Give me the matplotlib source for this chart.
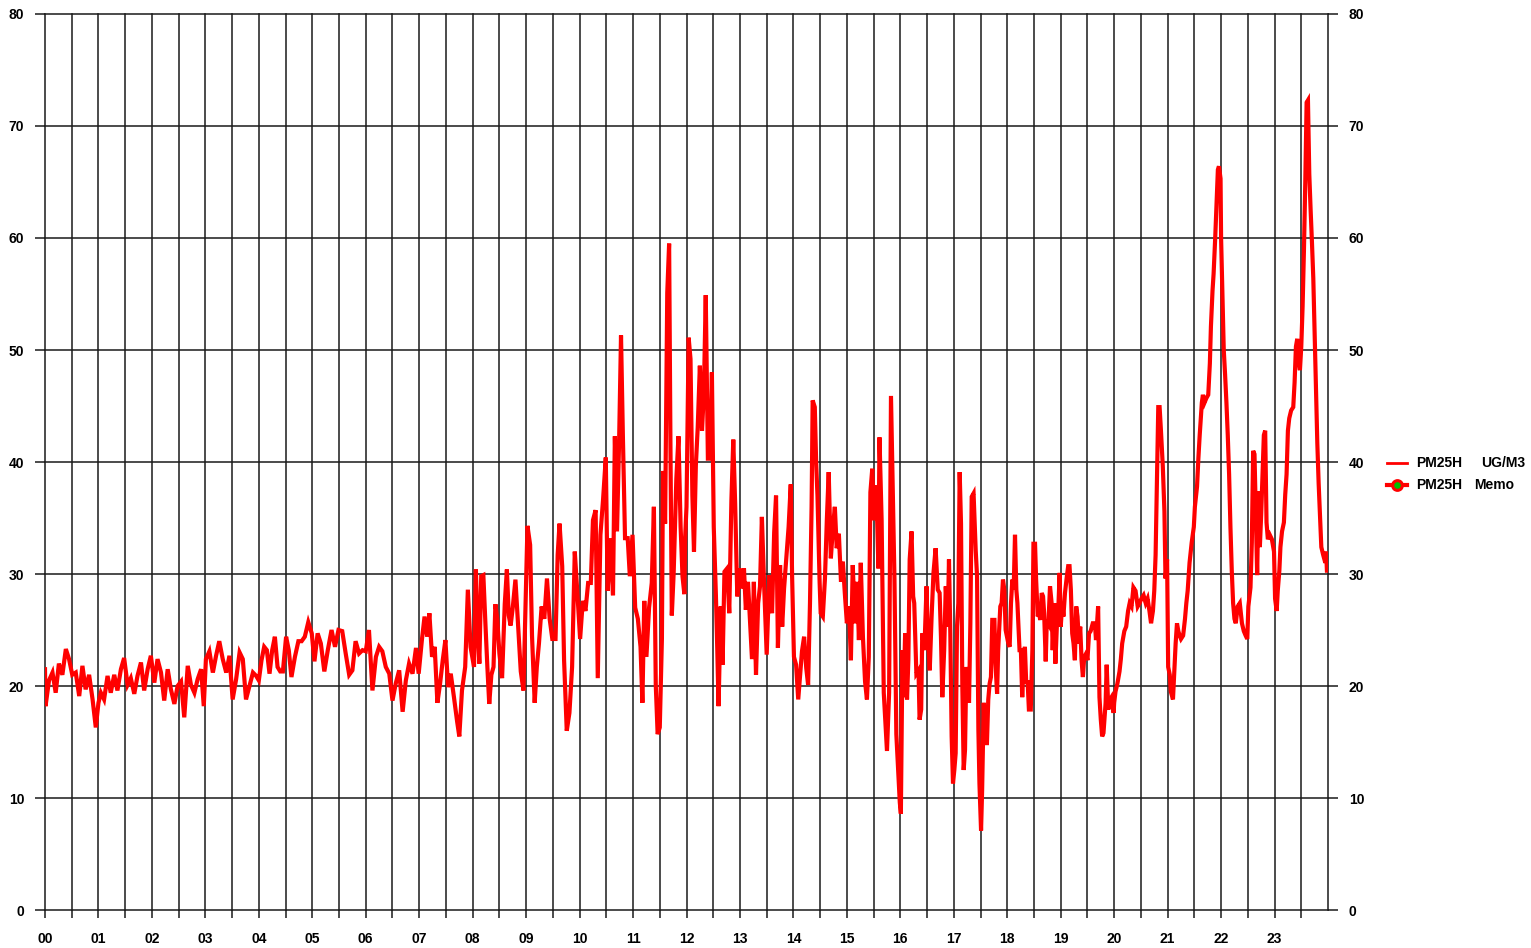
import numpy as np
import matplotlib
matplotlib.use("Agg")
import matplotlib.pyplot as plt
from matplotlib.lines import Line2D
from matplotlib.font_manager import FontProperties

# PM25H readings (x = year index 00..23)
t_00_04 = [0.0, 0.01, 0.075, 0.14, 0.20, 0.26, 0.325, 0.39, 0.45, 0.51, 0.575, 0.64, 0.70, 0.76,
           0.825, 0.89, 0.95, 1.0, 1.045, 1.105, 1.17, 1.23, 1.295, 1.355, 1.42, 1.48, 1.545,
           1.605, 1.67, 1.73, 1.795, 1.855, 1.92, 1.98, 2.045, 2.105, 2.17, 2.23, 2.295, 2.355,
           2.42, 2.48, 2.545, 2.605, 2.67, 2.73, 2.795, 2.855, 2.92, 2.97, 3.01, 3.075, 3.14,
           3.20, 3.26, 3.325, 3.39, 3.45, 3.51, 3.575, 3.64, 3.70, 3.76, 3.825, 3.89, 3.95]
v_00_04 = [21.5, 18.2, 20.5, 21.2, 19.4, 22.0, 21.0, 23.3, 22.4, 21.0, 21.2, 19.1, 21.8, 19.7,
           21.0, 18.8, 16.3, 18.5, 19.4, 18.8, 20.9, 19.4, 21.0, 19.6, 21.5, 22.5, 20.1,
           20.7, 19.3, 20.9, 22.1, 19.6, 21.5, 22.7, 20.3, 22.4, 21.2, 18.7, 21.5, 19.7,
           18.4, 20.0, 20.4, 17.2, 21.8, 20.1, 19.4, 20.6, 21.5, 18.2, 22.4, 23.1, 21.2,
           22.7, 24.0, 22.4, 21.2, 22.7, 18.8, 20.6, 23.0, 22.4, 18.8, 20.0, 21.2, 20.9]

t_04_08 = [4.0, 4.05, 4.10, 4.15, 4.20, 4.25, 4.30, 4.35, 4.40, 4.45, 4.51, 4.56, 4.61, 4.675,
           4.74, 4.80, 4.86, 4.925, 4.99, 5.04, 5.10, 5.16, 5.225, 5.29, 5.36, 5.425, 5.49,
           5.56, 5.625, 5.69, 5.75, 5.81, 5.875, 5.94, 6.0, 6.06, 6.125, 6.19, 6.25, 6.31,
           6.375, 6.44, 6.50, 6.56, 6.625, 6.69, 6.75, 6.81, 6.875, 6.94, 6.99, 7.05, 7.10,
           7.15, 7.19, 7.24, 7.29, 7.34, 7.39, 7.44, 7.49, 7.54, 7.59, 7.65, 7.71, 7.75,
           7.80, 7.86, 7.91, 7.96]
v_04_08 = [20.5, 22.3, 23.5, 23.2, 21.1, 23.2, 24.4, 21.7, 21.3, 21.3, 24.4, 23.2, 20.8, 22.6,
           24.0, 24.0, 24.4, 25.7, 24.7, 22.2, 24.7, 23.8, 21.3, 23.2, 25.0, 23.5, 25.0,
           24.9, 22.9, 21.0, 21.4, 24.0, 22.9, 23.2, 23.1, 25.0, 19.6, 22.6, 23.5, 23.1,
           21.7, 21.1, 18.7, 20.2, 21.4, 17.7, 20.5, 22.0, 21.1, 23.4, 21.1, 24.1, 26.2,
           24.4, 26.5, 22.6, 23.5, 18.5, 20.2, 22.3, 24.1, 19.9, 21.1, 19.0, 16.8, 15.5,
           19.6, 21.7, 28.6, 23.5]

t_08_12 = [8.025, 8.06, 8.09, 8.125, 8.16, 8.20, 8.24, 8.275, 8.31, 8.35, 8.39, 8.425, 8.46,
           8.50, 8.55, 8.60, 8.64, 8.675, 8.71, 8.75, 8.80, 8.85, 8.90, 8.95, 8.99, 9.025,
           9.075, 9.11, 9.16, 9.20, 9.24, 9.29, 9.34, 9.39, 9.44, 9.49, 9.55, 9.59, 9.625,
           9.675, 9.71, 9.76, 9.81, 9.86, 9.91, 9.96, 10.01, 10.06, 10.11, 10.16, 10.21,
           10.25, 10.30, 10.34, 10.39, 10.44, 10.49, 10.525, 10.575, 10.625, 10.66, 10.70,
           10.74, 10.775, 10.81, 10.85, 10.90, 10.94, 10.99, 11.04, 11.09, 11.14, 11.175,
           11.21, 11.25, 11.30, 11.35, 11.39, 11.425, 11.46, 11.50, 11.54, 11.56, 11.60,
           11.64, 11.675, 11.70, 11.725, 11.76, 11.81, 11.85, 11.89, 11.925, 11.96, 11.975]
v_08_12 = [21.7, 30.4, 25.4, 22.0, 29.8, 29.9, 25.4, 21.7, 18.4, 21.0, 21.7, 27.3, 26.0,
           22.9, 20.7, 27.3, 30.4, 26.3, 25.4, 27.0, 29.5, 25.4, 21.3, 19.6, 27.3, 34.3,
           32.6, 24.5, 18.5, 21.7, 23.8, 27.1, 26.0, 29.6, 26.0, 24.2, 24.2, 31.7, 34.5,
           30.7, 22.3, 16.0, 17.6, 21.7, 32.0, 28.2, 24.2, 27.6, 26.7, 29.2, 29.2,
           34.8, 35.7, 20.7, 33.5, 36.7, 40.4, 28.5, 33.2, 28.1, 42.3, 33.8,
           42.0, 51.3, 42.3, 33.2, 33.2, 29.8, 33.5, 27.0, 26.0, 23.5, 18.5,
           27.6, 22.6, 27.0, 29.2, 36.0, 20.1, 15.7, 16.3, 24.2, 39.2, 34.5,
           55.1, 59.5, 41.3, 26.3, 30.1, 38.5, 42.3, 34.2, 29.8, 28.2, 33.3]

t_12_16 = [12.0, 12.04, 12.075, 12.11, 12.14, 12.175, 12.21, 12.25, 12.29, 12.325, 12.36, 12.40,
           12.44, 12.475, 12.51, 12.55, 12.575, 12.60, 12.64, 12.675, 12.71, 12.76, 12.80,
           12.84, 12.875, 12.91, 12.95, 12.99, 13.025, 13.075, 13.11, 13.15, 13.19, 13.225,
           13.26, 13.30, 13.34, 13.375, 13.41, 13.45, 13.50, 13.55, 13.60, 13.64, 13.675,
           13.71, 13.75, 13.79, 13.825, 13.875, 13.91, 13.95, 13.975, 14.01, 14.05, 14.09,
           14.125, 14.16, 14.20, 14.24, 14.275, 14.31, 14.34, 14.36, 14.40, 14.425, 14.45,
           14.49, 14.51, 14.55, 14.59, 14.625, 14.66, 14.70, 14.74, 14.775, 14.81, 14.85,
           14.89, 14.925, 14.96, 15.0, 15.04, 15.075, 15.11, 15.15, 15.19, 15.225, 15.26,
           15.30, 15.34, 15.375, 15.41, 15.44, 15.475, 15.51, 15.55, 15.59, 15.61, 15.65,
           15.69, 15.725, 15.75, 15.79, 15.825, 15.86, 15.89, 15.925, 15.95, 15.99, 16.01]
v_12_16 = [36.0, 51.1, 49.2, 37.0, 32.0, 39.7, 43.1, 48.6, 42.8, 46.2, 54.9, 40.3,
           40.3, 48.0, 34.2, 28.1, 23.4, 18.2, 27.1, 21.9, 30.2, 30.5, 26.5,
           36.6, 42.0, 36.3, 28.0, 30.5, 28.7, 30.5, 26.8, 29.3, 25.6, 22.4,
           29.3, 21.0, 27.4, 28.9, 35.1, 29.3, 22.8, 29.9, 26.5, 33.7, 37.0,
           23.4, 30.8, 25.3, 28.7, 32.0, 34.2, 38.0, 29.9, 22.6, 21.9, 18.8,
           21.0, 23.1, 24.4, 21.6, 20.1, 27.4, 36.0, 45.5, 44.9, 40.0, 37.0,
           29.3, 26.5, 26.2, 29.6, 34.8, 39.1, 31.4, 34.2, 36.0, 32.3, 33.6,
           29.3, 31.1, 28.4, 25.6, 27.1, 22.3, 30.8, 25.6, 29.3, 24.1, 31.0,
           24.4, 20.4, 18.8, 22.6, 37.3, 39.4, 34.8, 37.9, 30.5, 42.2, 34.8,
           19.4, 16.3, 14.2, 19.4, 45.9, 37.3, 29.6, 15.7, 13.3, 9.6, 8.6]

t_16_20 = [16.04, 16.06, 16.09, 16.125, 16.15, 16.175, 16.21, 16.24, 16.26, 16.30, 16.34, 16.36,
           16.39, 16.41, 16.45, 16.49, 16.51, 16.55, 16.585, 16.62, 16.66, 16.70, 16.735,
           16.76, 16.785, 16.82, 16.85, 16.885, 16.91, 16.935, 16.96, 16.985, 17.01, 17.035,
           17.06, 17.085, 17.11, 17.135, 17.16, 17.185, 17.21, 17.235, 17.26, 17.285, 17.31,
           17.335, 17.37, 17.41, 17.435, 17.46, 17.48, 17.51, 17.53, 17.56, 17.585, 17.62,
           17.645, 17.67, 17.695, 17.72, 17.76, 17.78, 17.81, 17.83, 17.87, 17.895, 17.92,
           17.945, 17.97, 17.995, 18.02, 18.045, 18.07, 18.095, 18.12, 18.145, 18.17, 18.19,
           18.23, 18.255, 18.28, 18.305, 18.33, 18.355, 18.38, 18.405, 18.44, 18.47, 18.49,
           18.52, 18.54, 18.57, 18.59, 18.62, 18.645, 18.67, 18.69, 18.72, 18.74, 18.77,
           18.80, 18.83, 18.85, 18.88, 18.90, 18.93, 18.95, 18.98, 19.00, 19.03, 19.05,
           19.08, 19.115, 19.14, 19.165, 19.19, 19.215, 19.24, 19.265, 19.29, 19.315, 19.34,
           19.365, 19.39, 19.415, 19.44, 19.475, 19.50, 19.53, 19.56, 19.60, 19.64, 19.66,
           19.70, 19.725, 19.75, 19.775, 19.80, 19.84, 19.86, 19.89, 19.925, 19.95, 19.99]
v_16_20 = [23.2, 19.0, 24.7, 18.8, 22.3, 31.3, 33.8, 28.0, 27.4, 21.1, 21.4, 17.0,
           17.9, 24.7, 23.2, 28.9, 25.0, 21.4, 26.2, 30.1, 32.3, 28.6, 28.3,
           24.4, 19.0, 23.2, 28.9, 25.3, 31.3, 24.7, 15.5, 11.3, 12.5, 14.0,
           25.3, 27.4, 39.1, 34.5, 19.9, 12.5, 14.3, 21.7, 19.6, 18.5, 25.6,
           36.9, 37.2, 32.1, 29.8, 16.1, 11.3, 7.1, 10.7, 18.5, 14.9, 14.9,
           18.8, 20.2, 20.8, 25.9, 25.9, 22.0, 19.3, 23.2, 27.1, 27.4, 29.5,
           28.6, 25.0, 24.4, 23.8, 23.5, 27.4, 29.5, 28.6, 33.5, 28.6, 27.4,
           23.2, 23.2, 19.0, 22.0, 23.5, 20.2, 20.5, 17.9, 17.9, 23.2, 32.7,
           32.7, 29.5, 26.2, 26.5, 25.9, 28.3, 28.0, 26.5, 22.2, 25.9, 25.6,
           28.9, 27.4, 23.2, 27.4, 22.0, 25.6, 26.2, 30.1, 25.3, 27.4, 26.2,
           28.3, 29.8, 30.7, 30.7, 28.6, 24.7, 23.8, 22.3, 27.1, 26.2, 23.8,
           25.3, 22.3, 20.8, 22.6, 22.9, 22.3, 24.7, 24.9, 25.6, 25.6, 24.1,
           27.1, 19.0, 17.0, 15.5, 15.8, 18.5, 21.9, 17.9, 18.8, 19.0, 17.6]

t_20_24 = [20.0, 20.025, 20.06, 20.10, 20.125, 20.15, 20.19, 20.225, 20.26, 20.29, 20.325, 20.36,
           20.40, 20.44, 20.475, 20.51, 20.55, 20.59, 20.625, 20.66, 20.69, 20.725, 20.75,
           20.775, 20.80, 20.825, 20.85, 20.875, 20.91, 20.94, 20.96, 20.99, 21.01, 21.04,
           21.06, 21.10, 21.125, 21.15, 21.175, 21.20, 21.225, 21.25, 21.29, 21.325, 21.35,
           21.375, 21.41, 21.45, 21.49, 21.51, 21.55, 21.575, 21.60, 21.64, 21.66, 21.69,
           21.725, 21.76, 21.79, 21.81, 21.84, 21.86, 21.89, 21.91, 21.94, 21.96, 21.99,
           22.0, 22.025, 22.05, 22.075, 22.10, 22.125, 22.15, 22.175, 22.20, 22.225, 22.25,
           22.275, 22.31, 22.35, 22.39, 22.425, 22.46, 22.49, 22.51, 22.55, 22.575, 22.60,
           22.625, 22.65, 22.675, 22.70, 22.725, 22.75, 22.775, 22.80, 22.825, 22.85, 22.875,
           22.91, 22.95, 22.99, 23.01, 23.04, 23.06, 23.09, 23.11, 23.14, 23.175, 23.20,
           23.225, 23.25, 23.275, 23.31, 23.35, 23.375, 23.40, 23.425, 23.45, 23.475, 23.50,
           23.525, 23.55, 23.575, 23.60, 23.625, 23.65, 23.675, 23.70, 23.725, 23.75, 23.775,
           23.80, 23.825, 23.85, 23.875, 23.91, 23.95, 23.965, 23.98]
v_20_24 = [18.5, 19.5, 20.2, 21.3, 22.4, 23.8, 24.9, 25.3, 26.7, 27.4, 27.1, 28.8,
           28.5, 27.1, 27.4, 27.8, 28.1, 27.4, 27.8, 26.7, 25.6, 26.7, 28.5,
           31.7, 38.5, 44.9, 44.9, 42.8, 39.6, 35.6, 29.6, 31.3, 21.7, 21.0,
           19.5, 18.8, 21.3, 23.8, 25.6, 24.9, 24.5, 24.2, 24.5, 26.0, 27.4,
           28.5, 31.0, 32.8, 34.2, 36.0, 37.8, 40.3, 42.4, 45.3, 46.0, 45.3,
           45.7, 46.0, 48.8, 52.1, 55.3, 56.8, 60.0, 62.5, 66.1, 66.4, 65.3,
           60.0, 55.0, 50.0, 47.8, 45.3, 42.4, 38.9, 34.2, 30.3, 27.4, 26.0,
           25.6, 27.1, 27.4, 25.6, 24.9, 24.5, 24.2, 27.1, 28.8, 32.8, 41.0,
           40.7, 35.3, 29.9, 37.4, 32.4, 35.3, 38.9, 42.4, 42.8, 34.6, 33.1,
           33.5, 33.1, 32.0, 27.8, 26.7, 28.5, 30.3, 32.4, 33.8, 34.6, 37.1,
           38.9, 42.8, 43.9, 44.6, 44.9, 47.1, 50.3, 51.0, 48.9, 48.2, 50.3,
           53.9, 58.9, 65.0, 72.1, 72.3, 65.7, 62.5, 59.6, 56.4, 51.4, 46.4,
           41.7, 38.1, 35.3, 32.4, 31.7, 31.0, 32.0, 30.3]

x_labels = ["%02d" % i for i in range(24)]
y_ticks = list(range(0, 81, 10))

t = np.concatenate([t_00_04, t_04_08, t_08_12, t_12_16, t_16_20, t_20_24])
v = np.concatenate([v_00_04, v_04_08, v_08_12, v_12_16, v_16_20, v_20_24])

W, H = 1531, 948
fig = plt.figure(figsize=(W / 100, H / 100), dpi=100)
ax = fig.add_axes([45 / W, 1 - 910 / H, (1328 - 45) / W, (910 - 14) / H])

grid_kw = dict(color="#1a1a1a", lw=1.1, zorder=1, clip_on=False)
for y in y_ticks:
    ax.axhline(y, **grid_kw)
for x in np.arange(0, 24.01, 0.5):
    ax.axvline(x, **grid_kw)

ax.plot(t, v, color="#ff0000", lw=3.0, zorder=3, solid_joinstyle="miter")

ax.set_xlim(0, 24)
ax.set_ylim(0, 80)
for s in ax.spines.values():
    s.set_visible(False)

font = dict(family="Liberation Sans", weight="bold", size=10)
fp = FontProperties(**font)
ax.set_xticks(np.arange(0, 24, 0.5), minor=True)
ax.set_xticks(range(24))
ax.set_xticklabels(x_labels)
ax.set_yticks(y_ticks)
ax.set_yticklabels([str(y) for y in y_ticks])
ax.tick_params(axis="x", which="both", direction="out", length=6, width=1.1,
               color="#1a1a1a", pad=10)
ax.tick_params(axis="y", direction="out", length=7, width=1.1, color="#1a1a1a",
               right=True, labelright=True, pad=8)
for lab in ax.get_xticklabels() + ax.get_yticklabels() + ax.yaxis.get_ticklabels(which="major"):
    lab.set_fontproperties(fp)
for tk in ax.yaxis.get_major_ticks():
    tk.label2.set_fontproperties(fp)

# legend drawn by hand so the columns line up like the original
lx0, lx1 = 1387 / W, 1407 / W
y1, y2 = 1 - 463 / H, 1 - 485 / H
fig.add_artist(Line2D([lx0, lx1], [y1, y1], color="#ff0000", lw=2.0, transform=fig.transFigure))
fig.add_artist(Line2D([lx0, lx1], [y2, y2], color="#ff0000", lw=3.0, transform=fig.transFigure))
fig.add_artist(Line2D([(lx0 + lx1) / 2], [y2], marker="o", ms=7, mfc="#00c000", mec="#ff0000",
                      mew=2.2, transform=fig.transFigure))
fig.text(1416 / W, y1, "PM25H", va="center", ha="left", **font)
fig.text(1481 / W, y1, "UG/M3", va="center", ha="left", **font)
fig.text(1416 / W, y2, "PM25H", va="center", ha="left", **font)
fig.text(1474 / W, y2, "Memo", va="center", ha="left", **font)

fig.savefig("out.png", dpi=100, facecolor="white")
